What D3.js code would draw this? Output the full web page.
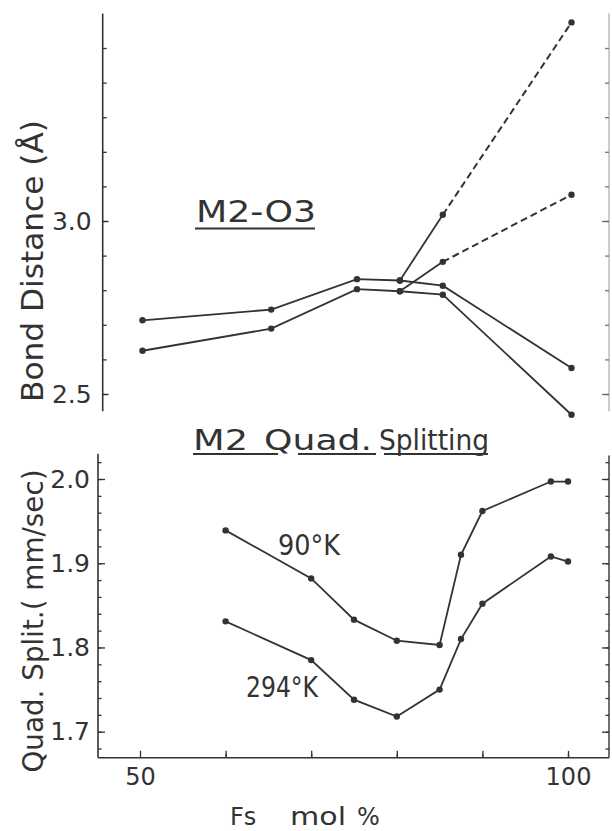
<!DOCTYPE html>
<html><head><meta charset="utf-8">
<script src="https://cdn.jsdelivr.net/npm/d3@7"></script>
<style>
body{margin:0;background:#fff}
svg{display:block}
text{font-family:"DejaVu Sans",sans-serif;fill:#333}
</style>
</head><body>
<svg id="c" width="612" height="831"></svg>
<script>
// ---- data ----
const fsTop = [50, 65, 75, 80, 85, 100];
const bondUpper = [2.713, 2.744, 2.832, 2.828, 2.813, 2.575];
const bondLower = [2.625, 2.689, 2.803, 2.797, 2.787, 2.440];
const branchFs = [80, 85, 100];
const branchA = [2.828, 3.018, 3.574];
const branchB = [2.797, 2.882, 3.076];

const fsQuad = [60, 70, 75, 80, 85, 87.5, 90, 98, 100];
const quad90 = [1.939, 1.882, 1.833, 1.808, 1.803, 1.910, 1.962, 1.997, 1.997];
const quad294 = [1.831, 1.785, 1.738, 1.718, 1.750, 1.810, 1.852, 1.908, 1.902];

const bondTickLabels = [2.5, 3.0];
const quadTickLabels = [1.7, 1.8, 1.9, 2.0];
const fsTickLabels = [50, 100];

const bondTitle = "Bond Distance (Å)";
const quadTitle = "Quad. Split.( mm/sec)";
const topLabel = "M2-O3";
const botLabel = ["M2", "Quad.", "Splitting"];
const seriesLabels = ["90°K", "294°K"];
const xTitle = ["Fs", "mol", "%"];

// ---- drawing ----
const svg = d3.select("#c");
const ink = "#333";

const xTop = d3.scaleLinear().domain([50, 100]).range([142.5, 571.5]);
const yTop = d3.scaleLinear().domain([2.5, 3.0]).range([394, 221]);
const xBot = d3.scaleLinear().domain([50, 100]).range([140, 568]);
const yBot = d3.scaleLinear().domain([1.7, 2.0]).range([731.7, 479]);

const leftTopX = 102.7, leftBotX = 98, rightX = 609, baseY = yBot(1.669);

function styleAxis(g) {
  g.select(".domain").remove();
  g.selectAll("line").attr("stroke", ink).attr("stroke-width", 1.3);
  g.selectAll("text").attr("font-family", '"DejaVu Sans",sans-serif').attr("fill", "#333");
}
const range = (a, b, s) => d3.range(Math.round(a / s), Math.round(b / s) + 1).map(k => +(k * s).toFixed(3));

// --- top panel axes ---
svg.append("line").attr("x1", leftTopX).attr("x2", leftTopX)
  .attr("y1", yTop(3.6)).attr("y2", yTop(2.45)).attr("stroke", ink).attr("stroke-width", 1.6);
svg.append("line").attr("x1", rightX).attr("x2", rightX)
  .attr("y1", yTop(3.6)).attr("y2", yTop(2.45)).attr("stroke", "#9a9a9a").attr("stroke-width", 1);

svg.append("g").attr("transform", `translate(${leftTopX},0)`)
  .call(d3.axisLeft(yTop).tickValues(range(2.5, 3.5, 0.1)).tickSize(-4).tickFormat(""))
  .call(styleAxis);
svg.append("g").attr("transform", `translate(${leftTopX},0)`)
  .call(d3.axisLeft(yTop).tickValues(bondTickLabels).tickSize(-6).tickPadding(11).tickFormat(d3.format(".1f")))
  .call(styleAxis)
  .call(g => g.selectAll("text").attr("font-size", 25));
svg.append("g").attr("transform", `translate(${rightX},0)`)
  .call(d3.axisRight(yTop).tickValues(range(2.5, 3.5, 0.1)).tickSize(-4).tickFormat(""))
  .call(styleAxis).call(g => g.selectAll("line").attr("stroke", "#777"));
svg.append("g").attr("transform", `translate(${rightX},0)`)
  .call(d3.axisRight(yTop).tickValues(bondTickLabels).tickSize(-7).tickFormat(""))
  .call(styleAxis).call(g => g.selectAll("line").attr("stroke", "#666"));

// --- bottom panel axes ---
svg.append("line").attr("x1", leftBotX).attr("x2", leftBotX)
  .attr("y1", yBot(2.03)).attr("y2", baseY).attr("stroke", ink).attr("stroke-width", 1.6);
svg.append("line").attr("x1", rightX).attr("x2", rightX)
  .attr("y1", yBot(2.028)).attr("y2", baseY).attr("stroke", ink).attr("stroke-width", 1.4);
svg.append("line").attr("x1", xBot(45.1)).attr("x2", xBot(104.8))
  .attr("y1", baseY).attr("y2", baseY).attr("stroke", ink).attr("stroke-width", 1.6);

svg.append("g").attr("transform", `translate(${leftBotX},0)`)
  .call(d3.axisLeft(yBot).tickValues(range(1.68, 2.02, 0.02)).tickSize(-3.5).tickFormat(""))
  .call(styleAxis);
svg.append("g").attr("transform", `translate(${leftBotX},0)`)
  .call(d3.axisLeft(yBot).tickValues(quadTickLabels).tickSize(-7).tickPadding(8).tickFormat(d3.format(".1f")))
  .call(styleAxis)
  .call(g => g.selectAll("text").attr("font-size", 25));
svg.append("g").attr("transform", `translate(${rightX},0)`)
  .call(d3.axisRight(yBot).tickValues(range(1.68, 2.02, 0.02)).tickSize(-3.5).tickFormat(""))
  .call(styleAxis);
svg.append("g").attr("transform", `translate(${rightX},0)`)
  .call(d3.axisRight(yBot).tickValues(quadTickLabels).tickSize(-7).tickFormat(""))
  .call(styleAxis);

svg.append("g").attr("transform", `translate(0,${baseY})`)
  .call(d3.axisBottom(xBot).tickValues(range(55, 95, 10)).tickSize(-4).tickFormat(""))
  .call(styleAxis);
svg.append("g").attr("transform", `translate(0,${baseY})`)
  .call(d3.axisBottom(xBot).tickValues(range(50, 100, 10)).tickSize(-7).tickPadding(10)
    .tickFormat(d => fsTickLabels.includes(d) ? String(d) : ""))
  .call(styleAxis)
  .call(g => g.selectAll("text").attr("font-size", 24));

// --- titles ---
svg.append("text").attr("transform", "translate(43,261) rotate(-90)")
  .attr("text-anchor", "middle").attr("font-size", 31)
  .attr("textLength", 282).attr("lengthAdjust", "spacingAndGlyphs").text(bondTitle);
svg.append("text").attr("transform", "translate(43,621) rotate(-90)")
  .attr("text-anchor", "middle").attr("font-size", 29)
  .attr("textLength", 303).attr("lengthAdjust", "spacingAndGlyphs").text(quadTitle);

const xt = svg.append("text").attr("y", 825).attr("font-size", 24);
xt.append("tspan").attr("x", 230).text(xTitle[0]);
xt.append("tspan").attr("x", 290).attr("textLength", 56).attr("lengthAdjust", "spacingAndGlyphs").text(xTitle[1]);
xt.append("tspan").attr("x", 357).text(xTitle[2]);

// panel labels
svg.append("text").attr("x", 196).attr("y", 222).attr("font-size", 31)
  .attr("textLength", 120).attr("lengthAdjust", "spacingAndGlyphs").text(topLabel);
svg.append("line").attr("x1", 195).attr("x2", 315).attr("y1", 228.5).attr("y2", 228.5)
  .attr("stroke", ink).attr("stroke-width", 2.2);

const bl = svg.append("text").attr("y", 450).attr("font-size", 28);
bl.append("tspan").attr("x", 193).attr("textLength", 55).attr("lengthAdjust", "spacingAndGlyphs").text(botLabel[0]);
bl.append("tspan").attr("x", 264).attr("textLength", 108).attr("lengthAdjust", "spacingAndGlyphs").text(botLabel[1]);
bl.append("tspan").attr("x", 379).attr("textLength", 110).attr("lengthAdjust", "spacingAndGlyphs").text(botLabel[2]);
[[193, 278], [298, 376], [384, 488]].forEach(([a, b]) =>
  svg.append("line").attr("x1", a).attr("x2", b).attr("y1", 454).attr("y2", 454)
    .attr("stroke", ink).attr("stroke-width", 2.2));

svg.append("text").attr("x", 278).attr("y", 555).attr("font-size", 29)
  .attr("textLength", 62).attr("lengthAdjust", "spacingAndGlyphs").text(seriesLabels[0]);
svg.append("text").attr("x", 246).attr("y", 697).attr("font-size", 29)
  .attr("textLength", 72).attr("lengthAdjust", "spacingAndGlyphs").text(seriesLabels[1]);

// --- series ---
function drawSeries(xs, ys, xS, yS, dashFrom) {
  const pts = xs.map((x, i) => [x, ys[i]]);
  const line = d3.line().x(d => xS(d[0])).y(d => yS(d[1]));
  if (dashFrom == null) {
    svg.append("path").attr("d", line(pts)).attr("fill", "none").attr("stroke", ink).attr("stroke-width", 1.8);
  } else {
    svg.append("path").attr("d", line(pts.slice(0, dashFrom + 1))).attr("fill", "none")
      .attr("stroke", ink).attr("stroke-width", 1.8);
    svg.append("path").attr("d", line(pts.slice(dashFrom))).attr("fill", "none")
      .attr("stroke", ink).attr("stroke-width", 2).attr("stroke-dasharray", "7,4");
  }
  svg.append("g").selectAll("circle").data(pts).join("circle")
    .attr("cx", d => xS(d[0])).attr("cy", d => yS(d[1])).attr("r", 3.2).attr("fill", ink);
}
drawSeries(fsTop, bondUpper, xTop, yTop);
drawSeries(fsTop, bondLower, xTop, yTop);
drawSeries(branchFs, branchA, xTop, yTop, 1);
drawSeries(branchFs, branchB, xTop, yTop, 1);
drawSeries(fsQuad, quad90, xBot, yBot);
drawSeries(fsQuad, quad294, xBot, yBot);
</script>
</body></html>
